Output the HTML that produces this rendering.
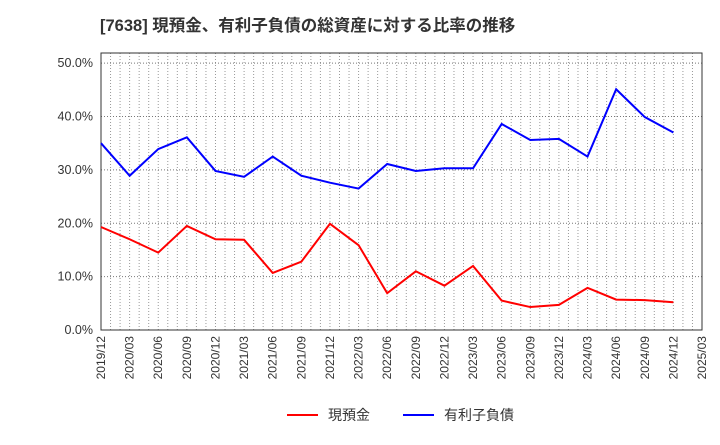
<!DOCTYPE html>
<html><head><meta charset="utf-8"><style>
body{margin:0;background:#fff;}
svg text{font-family:"Liberation Sans","Noto Sans CJK JP",sans-serif;}
</style></head><body>
<svg id="c" width="720" height="440" xmlns="http://www.w3.org/2000/svg">
<text x="100" y="31" font-size="16.5" font-weight="bold" fill="#333">[7638]  現預金、有利子負債の総資産に対する比率の推移</text>
<g id="grid"></g><g id="axes"></g><g id="series"></g>
<g>
<line x1="287" y1="415" x2="318" y2="415" stroke="#f00" stroke-width="2"/>
<text x="328" y="420" font-size="14" fill="#333">現預金</text>
<line x1="403" y1="415" x2="434" y2="415" stroke="#00f" stroke-width="2"/>
<text x="444" y="420" font-size="14" fill="#333">有利子負債</text>
</g>
</svg>
<script>
const categories=["2019/12","2020/03","2020/06","2020/09","2020/12","2021/03","2021/06","2021/09","2021/12","2022/03","2022/06","2022/09","2022/12","2023/03","2023/06","2023/09","2023/12","2024/03","2024/06","2024/09","2024/12","2025/03"];
const cashValues=[19.3,17.0,14.5,19.5,17.0,16.9,10.7,12.8,19.9,15.9,6.9,11.0,8.3,12.0,5.5,4.3,4.7,7.9,5.7,5.6,5.2];
const debtValues=[35.0,28.9,33.9,36.1,29.8,28.7,32.5,28.9,27.6,26.5,31.1,29.8,30.3,30.3,38.6,35.6,35.8,32.5,45.1,39.9,37.0];
const yTicks=[0,10,20,30,40,50];
const NS="http://www.w3.org/2000/svg";
const L=101,R=702,T=53,B=330,yMax=51.9;
const x=i=>L+(R-L)*i/(categories.length-1);
const y=v=>B-(B-T)*v/yMax;
function mk(t,a,p){const e=document.createElementNS(NS,t);for(const k in a)e.setAttribute(k,a[k]);p.appendChild(e);return e;}
const grid=document.getElementById('grid'),axes=document.getElementById('axes'),ser=document.getElementById('series');
const nMonths=(categories.length-1)*3;
for(let m=1;m<nMonths;m++){const xx=L+(R-L)*m/nMonths;const g=mk('line',{x1:xx,x2:xx,y1:T,y2:B,stroke:'#999','stroke-dasharray':'1,2','stroke-width':1},grid);}
yTicks.forEach(v=>{const g=mk('line',{x1:L,x2:R,y1:y(v),y2:y(v),stroke:'#777','stroke-dasharray':'1,2'},grid);
const t=mk('text',{x:L-8,y:y(v)+4,'text-anchor':'end','font-size':12.5,fill:'#333'},axes);t.textContent=v.toFixed(1)+'%';});
const fr=mk('rect',{x:L,y:T,width:R-L,height:B-T,fill:'none',stroke:'#333'},axes);
categories.forEach((c,i)=>{const t=mk('text',{transform:`translate(${x(i)+4},${B+6}) rotate(-90)`,'text-anchor':'end','font-size':12,fill:'#333'},axes);t.textContent=c;});
function line(vals,col,name){const p=mk('polyline',{points:vals.map((v,i)=>x(i)+','+y(v)).join(' '),fill:'none',stroke:col,'stroke-width':2},ser);}
line(cashValues,'#f00','cash-line');
line(debtValues,'#00f','debt-line');
</script>
</body></html>
